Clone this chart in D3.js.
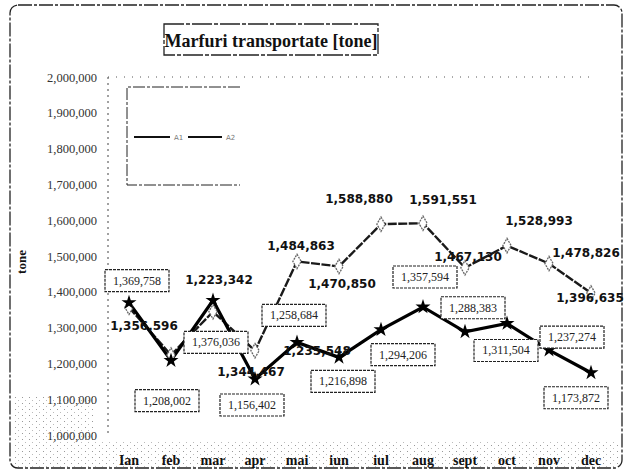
<!DOCTYPE html>
<html>
<head>
<meta charset="utf-8">
<script src="https://cdn.jsdelivr.net/npm/d3@7"></script>
<style>
  body { margin: 0; background: #fff; }
  svg { display: block; }
  .ytick text { font-family: "Liberation Serif", serif; font-size: 12.5px; fill: #333; }
  .xtick text { font-family: "Liberation Serif", serif; font-weight: bold; font-size: 14px; fill: #111; }
</style>
</head>
<body>
<div id="chart"></div>
<script>
var months = ["Ian", "feb", "mar", "apr", "mai", "iun", "iul", "aug", "sept", "oct", "nov", "dec"];
// upper series (plain bold labels)
var seriesA = [1356596, 1223342, 1344467, 1235548, 1484863, 1470850, 1588880, 1591551, 1467130, 1528993, 1478826, 1396635];
// lower series (boxed labels)
var seriesB = [1369758, 1208002, 1376036, 1156402, 1258684, 1216898, 1294206, 1357594, 1288383, 1311504, 1237274, 1173872];
var yTicks = [1000000, 1100000, 1200000, 1300000, 1400000, 1500000, 1600000, 1700000, 1800000, 1900000, 2000000];
var legendNames = ["A1", "A2"];

// label offsets from their point (layout only)
var offA = [[15, 19], [48, -75], [38, 60], [62, 0], [4, -15], [3, 18], [-22, -25], [20, -23], [3, -11], [32, -25], [37, -11], [-1, 5]];
var offB = [[8, -22], [-4, 40], [3, 42], [-3, 26], [-3, -27], [4, 24], [22, 25], [2, -30], [8, -24], [-1, 27], [23, -13], [-15, 25]];

document.addEventListener("DOMContentLoaded", function() {
    drawChart(document.querySelector("#chart"));
});

function drawChart(wrapper) {
    var width = 627, height = 472;
    var svg = d3.select(wrapper).append("svg")
        .attr("width", width)
        .attr("height", height);

    var fmt = d3.format(",");

    // stipple pattern for the scanned look under the axis
    var pat = svg.append("defs").append("pattern")
        .attr("id", "dots").attr("width", 7).attr("height", 6)
        .attr("patternUnits", "userSpaceOnUse");
    pat.append("rect").attr("x", 1).attr("y", 1).attr("width", 1).attr("height", 1).attr("fill", "#999");
    pat.append("rect").attr("x", 4).attr("y", 4).attr("width", 1).attr("height", 1).attr("fill", "#bbb");

    svg.append("rect")
        .attr("x", 14).attr("y", 440).attr("width", 606).attr("height", 27)
        .attr("fill", "url(#dots)");
    svg.append("rect")
        .attr("x", 14).attr("y", 395).attr("width", 80).attr("height", 50)
        .attr("fill", "url(#dots)");

    // outer frame
    svg.append("rect")
        .attr("x", 10).attr("y", 5).attr("width", 612).attr("height", 463)
        .attr("rx", 8)
        .attr("fill", "none")
        .attr("stroke", "#222")
        .attr("stroke-width", 1.3)
        .attr("stroke-dasharray", "14,2,3,2");

    // title
    svg.append("rect")
        .attr("x", 164).attr("y", 24).attr("width", 214).attr("height", 31)
        .attr("fill", "none")
        .attr("stroke", "#222")
        .attr("stroke-width", 1.3)
        .attr("stroke-dasharray", "20,2,4,2");
    svg.append("text")
        .attr("x", 271).attr("y", 47)
        .attr("text-anchor", "middle")
        .attr("font-family", "Liberation Serif, serif")
        .attr("font-weight", "bold")
        .attr("font-size", 18)
        .attr("fill", "#111")
        .text("Marfuri transportate [tone]");

    var x = d3.scaleBand().domain(months).range([108, 612]);
    var y = d3.scaleLinear().domain([1000000, 2000000]).range([435, 77]);
    function cx(i) { return x(months[i]) + x.bandwidth() / 2; }

    // plot frame lines (dotted)
    svg.append("line")
        .attr("x1", 108).attr("x2", 108).attr("y1", y(2000000)).attr("y2", y(1000000))
        .attr("stroke", "#444").attr("stroke-dasharray", "2,4");
    svg.append("line")
        .attr("x1", 108).attr("x2", 590).attr("y1", y(2000000)).attr("y2", y(2000000))
        .attr("stroke", "#555").attr("stroke-dasharray", "1,7");

    // axes
    var yAxis = svg.append("g")
        .attr("class", "ytick")
        .attr("transform", "translate(108,0)")
        .call(d3.axisLeft(y).tickValues(yTicks).tickFormat(fmt).tickSize(0).tickPadding(11));
    yAxis.select(".domain").remove();

    var xAxis = svg.append("g")
        .attr("class", "xtick")
        .attr("transform", "translate(0," + y(1000000) + ")")
        .call(d3.axisBottom(x).tickSize(0).tickPadding(20));
    xAxis.select(".domain").remove();

    svg.append("text")
        .attr("transform", "translate(26,262) rotate(-90)")
        .attr("text-anchor", "middle")
        .attr("font-family", "Liberation Serif, serif")
        .attr("font-weight", "bold")
        .attr("font-size", 13)
        .attr("fill", "#111")
        .text("tone");

    // legend
    var leg = svg.append("g");
    leg.append("path")
        .attr("d", "M240,87 H127 V185 H240")
        .attr("fill", "none")
        .attr("stroke", "#222")
        .attr("stroke-dasharray", "12,2,3,2");
    leg.append("line").attr("x1", 134).attr("x2", 170).attr("y1", 137).attr("y2", 137)
        .attr("stroke", "#111").attr("stroke-width", 2);
    leg.append("text").attr("x", 174).attr("y", 140)
        .attr("font-family", "DejaVu Sans, sans-serif").attr("font-size", 7).attr("fill", "#777")
        .text(legendNames[0]);
    leg.append("line").attr("x1", 188).attr("x2", 222).attr("y1", 137).attr("y2", 137)
        .attr("stroke", "#111").attr("stroke-width", 2);
    leg.append("text").attr("x", 226).attr("y", 140)
        .attr("font-family", "DejaVu Sans, sans-serif").attr("font-size", 7).attr("fill", "#777")
        .text(legendNames[1]);

    var line = d3.line()
        .x(function(d, i) { return cx(i); })
        .y(function(d) { return y(d); });

    svg.append("path")
        .datum(seriesA)
        .attr("d", line)
        .attr("fill", "none")
        .attr("stroke", "#1a1a1a")
        .attr("stroke-width", 2.4)
        .attr("stroke-dasharray", "9,1.5");

    svg.append("path")
        .datum(seriesB)
        .attr("d", line)
        .attr("fill", "none")
        .attr("stroke", "#000")
        .attr("stroke-width", 3.2);

    svg.selectAll("path.mA")
        .data(seriesA)
        .enter().append("path")
        .attr("class", "mA")
        .attr("transform", function(d, i) { return "translate(" + cx(i) + "," + y(d) + ")"; })
        .attr("d", d3.symbol().type(d3.symbolDiamond).size(60))
        .attr("fill", "#fff")
        .attr("stroke", "#666")
        .attr("stroke-width", 1.3)
        .attr("stroke-dasharray", "2,1");

    svg.selectAll("path.mB")
        .data(seriesB)
        .enter().append("path")
        .attr("class", "mB")
        .attr("transform", function(d, i) { return "translate(" + cx(i) + "," + y(d) + ")"; })
        .attr("d", d3.symbol().type(d3.symbolStar).size(70))
        .attr("fill", "#000");

    // plain labels for upper series
    svg.selectAll("text.lA")
        .data(seriesA)
        .enter().append("text")
        .attr("class", "lA")
        .attr("x", function(d, i) { return cx(i) + offA[i][0]; })
        .attr("y", function(d, i) { return y(d) + offA[i][1]; })
        .attr("text-anchor", "middle")
        .attr("dominant-baseline", "central")
        .attr("font-family", "DejaVu Sans, sans-serif")
        .attr("font-weight", "bold")
        .attr("font-size", 12)
        .attr("fill", "#111")
        .text(function(d) { return fmt(d); });

    // boxed labels for lower series
    var boxes = svg.selectAll("g.lB")
        .data(seriesB)
        .enter().append("g")
        .attr("class", "lB")
        .attr("transform", function(d, i) {
            return "translate(" + (cx(i) + offB[i][0]) + "," + (y(d) + offB[i][1]) + ")";
        });
    boxes.append("rect")
        .attr("x", -32).attr("y", -11).attr("width", 64).attr("height", 22)
        .attr("fill", "#fff")
        .attr("stroke", "#222")
        .attr("stroke-width", 1.2)
        .attr("stroke-dasharray", "3,1");
    boxes.append("text")
        .attr("text-anchor", "middle")
        .attr("dominant-baseline", "central")
        .attr("font-family", "Liberation Serif, serif")
        .attr("font-size", 12)
        .attr("fill", "#222")
        .text(function(d) { return fmt(d); });
}
</script>
</body>
</html>
